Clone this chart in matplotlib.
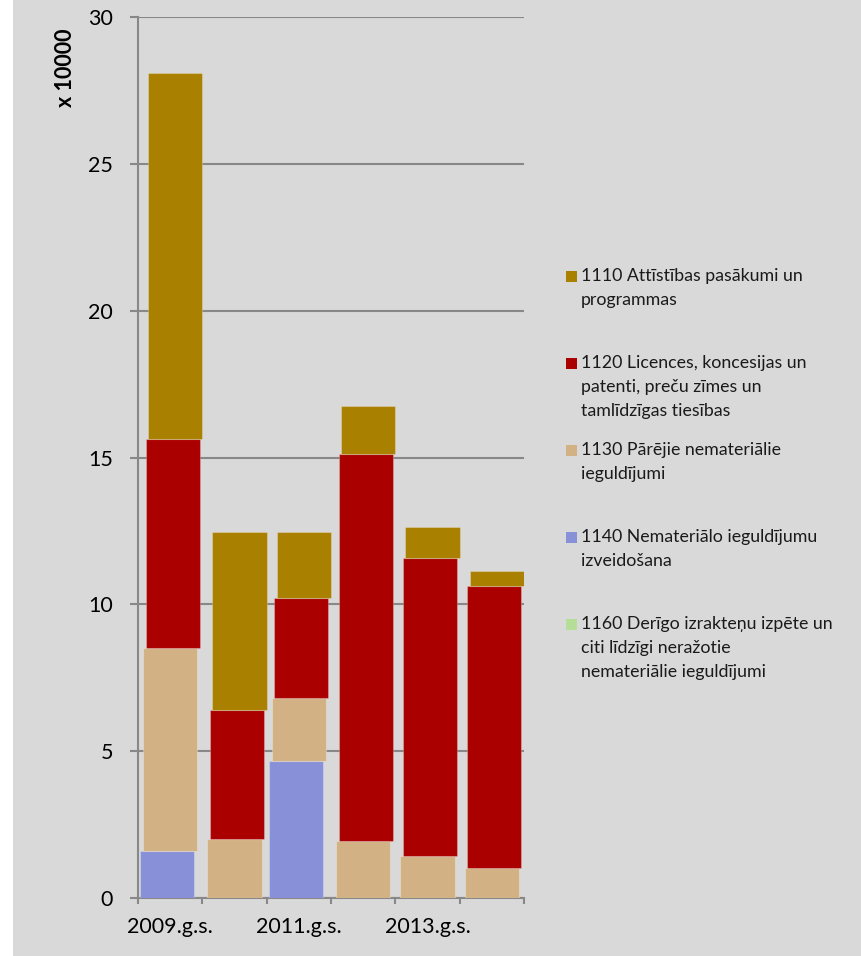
import matplotlib.pyplot as plt
from matplotlib.patches import Rectangle
import numpy as np

plt.rcParams['font.family'] = ['Lato', 'DejaVu Sans']

# Data (values in units of 10000)
years = ["2009.g.s.", "2010.g.s.", "2011.g.s.", "2012.g.s.", "2013.g.s.", "2014.g.s."]
s1110 = [12.46, 6.08, 2.24, 1.63, 1.04, 0.49]
s1120 = [7.13, 4.39, 3.41, 13.18, 10.14, 9.63]
s1130 = [6.89, 2.01, 2.14, 1.94, 1.44, 1.01]
s1140 = [1.61, 0.00, 4.68, 0.00, 0.00, 0.00]
s1160 = [0.00, 0.00, 0.00, 0.00, 0.00, 0.00]

labels = [
    "1110 Attīstības pasākumi un\nprogrammas",
    "1120 Licences, koncesijas un\npatenti, preču zīmes un\ntamlīdzīgas tiesības",
    "1130 Pārējie nemateriālie\nieguldījumi",
    "1140 Nemateriālo ieguldījumu\nizveidošana",
    "1160 Derīgo izrakteņu izpēte un\nciti līdzīgi neražotie\nnemateriālie ieguldījumi",
]
colors = ["#AA8000", "#AA0000", "#D2B284", "#8891D8", "#B5DF98"]

W, H = 862, 956
fig = plt.figure(figsize=(W / 100, H / 100), dpi=100, facecolor="white")
fig.patches.append(Rectangle((13 / W, 0), 1 - 13 / W, 1, transform=fig.transFigure,
                             facecolor="#D9D9D9", edgecolor="none", zorder=-10))

ax = fig.add_axes([138 / W, 1 - 898 / H, (524 - 138) / W, (898 - 17) / H])
ax.set_facecolor("none")

x = np.arange(len(years))
width = 0.84
# stacking order bottom -> top, with a small sideways shift per layer (3D look)
stack = [(s1160, colors[4], -0.088), (s1140, colors[3], -0.045),
         (s1130, colors[2], 0.0), (s1120, colors[1], 0.04), (s1110, colors[0], 0.078)]
bottom = np.zeros(len(years))
for vals, col, off in stack:
    vals = np.array(vals)
    ax.bar(x + off, vals, width=width, bottom=bottom, color=col,
           edgecolor=(1, 1, 1, 0.25), linewidth=0.8, zorder=3)
    bottom += vals

ax.set_xlim(-0.5, len(years) - 0.5)
ax.set_ylim(0, 30)
ax.set_yticks(range(0, 31, 5))
ax.yaxis.grid(True, color="#888888", linewidth=1.5, zorder=0)
ax.set_axisbelow(True)

ax.set_xticks(x[::2])
ax.set_xticklabels(years[::2])
ax.set_xticks(np.arange(-0.5, len(years), 1), minor=True)
ax.tick_params(axis="x", which="major", length=0, pad=14, labelsize=15.5)
ax.tick_params(axis="x", which="minor", length=4, width=1.5, color="#888888")
ax.tick_params(axis="y", length=6, width=1.5, color="#888888", pad=12, labelsize=15.5)

for side in ["top", "right"]:
    ax.spines[side].set_visible(False)
for side in ["left", "bottom"]:
    ax.spines[side].set_color("#888888")
    ax.spines[side].set_linewidth(1.5)

fig.text(65 / W, 1 - 68 / H, "x 10000", rotation=90, ha="center", va="center",
         fontsize=15.5, fontweight="bold")

# legend drawn by hand to match the layout
first_y = 276
for i, (lab, col) in enumerate(zip(labels, colors)):
    y0 = first_y + i * 87
    fig.patches.append(Rectangle((566 / W, 1 - (y0 + 5.5) / H), 11 / W, 11 / H,
                                 transform=fig.transFigure, facecolor=col,
                                 edgecolor="none"))
    for j, line in enumerate(lab.split("\n")):
        fig.text(581 / W, 1 - (y0 + j * 24) / H, line, ha="left", va="center",
                 fontsize=12.8, color="#1a1a1a")

fig.savefig("out.png", dpi=100, facecolor=fig.get_facecolor())
